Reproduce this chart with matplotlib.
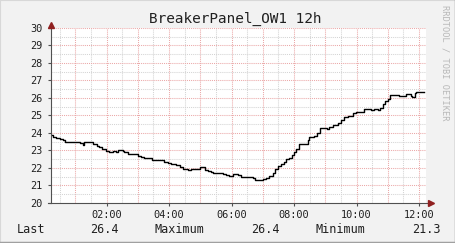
import matplotlib
matplotlib.use("Agg")
import matplotlib.pyplot as plt
import numpy as np

plt.rcParams.update({
    'font.family': 'DejaVu Sans Mono',
    'lines.scale_dashes': True,
})

# Temperature readings (hours since midnight, degrees)
hours = [0.22, 0.28, 0.38, 0.50, 0.60, 0.68, 1.15, 1.24, 1.27, 1.40,
         1.56, 1.70, 1.77, 1.86, 1.98, 2.09, 2.20, 2.30, 2.36, 2.52,
         2.57, 2.68, 3.00, 3.10, 3.21, 3.45, 3.84, 3.96, 4.07, 4.23,
         4.34, 4.44, 4.60, 4.71, 4.98, 5.16, 5.24, 5.35, 5.40, 5.51,
         5.61, 5.72, 5.83, 5.93, 6.04, 6.20, 6.31, 6.36, 6.55, 6.68,
         6.76, 7.00, 7.10, 7.21, 7.32, 7.39, 7.47, 7.58, 7.69, 7.74,
         7.85, 7.92, 8.01, 8.06, 8.15, 8.43, 8.49, 8.65, 8.72, 8.83,
         9.04, 9.12, 9.23, 9.39, 9.50, 9.60, 9.71, 9.89, 9.98, 10.24,
         10.46, 10.56, 10.67, 10.74, 10.83, 10.91, 10.99, 11.06, 11.36, 11.57,
         11.73, 11.78, 11.87, 11.91, 12.16]
temps = [23.89, 23.79, 23.73, 23.66, 23.60, 23.50, 23.41, 23.31, 23.50, 23.47,
         23.37, 23.27, 23.18, 23.09, 22.99, 22.93, 22.97, 22.93, 23.03, 22.97,
         22.90, 22.80, 22.70, 22.61, 22.55, 22.46, 22.36, 22.27, 22.21, 22.17,
         22.07, 21.94, 21.89, 21.93, 22.04, 21.89, 21.83, 21.79, 21.70, 21.73,
         21.70, 21.64, 21.60, 21.54, 21.64, 21.60, 21.50, 21.47, 21.50, 21.41,
         21.31, 21.37, 21.45, 21.56, 21.70, 21.93, 22.13, 22.23, 22.36, 22.50,
         22.59, 22.74, 22.90, 23.07, 23.37, 23.60, 23.79, 23.83, 23.98, 24.27,
         24.21, 24.36, 24.46, 24.55, 24.74, 24.90, 24.97, 25.13, 25.18, 25.37,
         25.31, 25.37, 25.31, 25.41, 25.64, 25.83, 25.93, 26.17, 26.13, 26.21,
         26.13, 26.07, 26.30, 26.36, 26.36]

x_ticks = [2, 4, 6, 8, 10, 12]
x_labels = ["02:00", "04:00", "06:00", "08:00", "10:00", "12:00"]
y_ticks = list(range(20, 31))

title = "BreakerPanel_OW1 12h"
legend_items = [("Last", 17), ("26.4", 90), ("Maximum", 155),
                ("26.4", 251), ("Minimum", 316), ("21.3", 412)]

W, H = 456, 243
BACK = '#f2f2f2'
MINOR = '#d4d4d4'
MAJOR = '#eba8a8'
AXIS = '#505050'
ARROW = '#902020'

fig = plt.figure(figsize=(W / 100, H / 100), dpi=100, facecolor=BACK)

def px(x, y):
    return x / W, 1 - y / H

# outer shading border
fig.add_artist(plt.Line2D([0, 0], [0, 1], color='#d8d8d8', lw=1.5, transform=fig.transFigure))
fig.add_artist(plt.Line2D([0, 1], [1, 1], color='#d8d8d8', lw=1.5, transform=fig.transFigure))
fig.add_artist(plt.Line2D([1, 1], [0, 1], color='#a0a0a0', lw=2.5, transform=fig.transFigure))
fig.add_artist(plt.Line2D([0, 1], [0, 0], color='#a0a0a0', lw=2.5, transform=fig.transFigure))

left, right, top, bottom = 51, 426, 28, 203
ax = fig.add_axes([left / W, 1 - bottom / H, (right - left) / W, (bottom - top) / H])
ax.set_facecolor('white')
x0 = hours[0]
ax.set_xlim(x0, x0 + 12)
ax.set_ylim(20, 30)

# grid
for h in np.arange(0.5, 12.5, 0.5):
    if h <= x0 or h > x0 + 12:
        continue
    c = MAJOR if float(h).is_integer() else MINOR
    ax.axvline(h, color=c, lw=0.75, linestyle=(0, (1, 1)), zorder=1)
for v in np.arange(20.5, 30.5, 0.5):
    c = MAJOR if float(v).is_integer() else MINOR
    ax.axhline(v, color=c, lw=0.75, linestyle=(0, (1, 1)), zorder=1)

ax.step(hours, temps, where='post', color='black', lw=1.0, zorder=3)

for s in ax.spines.values():
    s.set_visible(False)

# axes with arrows
ax.plot([-0.008, 1.01], [0, 0], color=AXIS, lw=0.8, transform=ax.transAxes, clip_on=False, zorder=4)
ax.plot([0, 0], [0, 1.0], color=AXIS, lw=0.8, transform=ax.transAxes, clip_on=False, zorder=4)
ax.plot([1.013], [0], marker='>', color=ARROW, markersize=4, transform=ax.transAxes, clip_on=False, zorder=5)
ax.plot([0], [1.018], marker='^', color=ARROW, markersize=4, transform=ax.transAxes, clip_on=False, zorder=5)

ax.set_xticks(x_ticks)
ax.set_xticklabels(x_labels)
ax.set_yticks(y_ticks)
ax.set_yticklabels([str(v) for v in y_ticks])
ax.tick_params(axis='both', length=2, width=0.8, color=AXIS, labelsize=7.4, labelcolor='#202020')
ax.tick_params(axis='x', pad=3)
ax.tick_params(axis='y', pad=4)

fig.text(*px(235, 19), title, ha='center', va='center', fontsize=10.4, color='#202020')
fig.text(*px(445, 5), "RRDTOOL / TOBI OETIKER", ha='center', va='top', rotation=270,
         fontsize=6.2, color='#b8b8b8')
for txt, x in legend_items:
    fig.text(*px(x, 229), txt, ha='left', va='center', fontsize=8.5, color='#202020')

fig.savefig('out.png', dpi=100, facecolor=BACK)
